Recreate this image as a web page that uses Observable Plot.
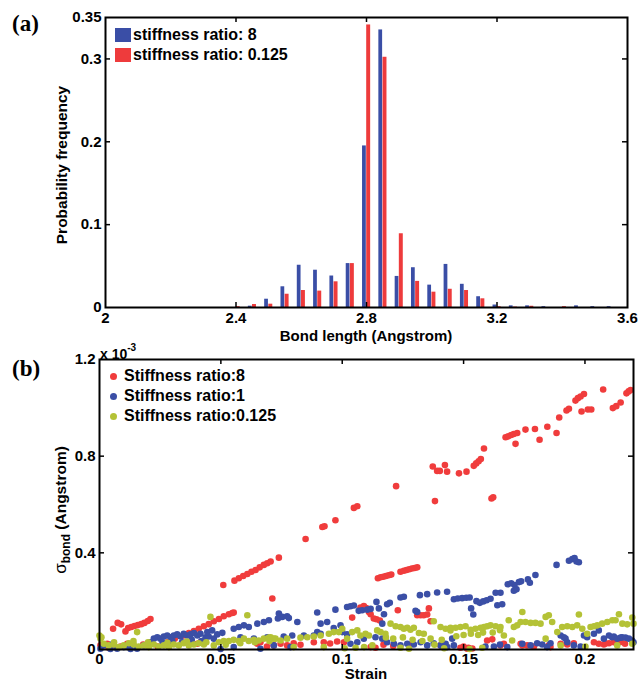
<!DOCTYPE html>
<html>
<head>
<meta charset="utf-8">
<script src="https://cdn.jsdelivr.net/npm/d3@7"></script>
<script src="https://cdn.jsdelivr.net/npm/@observablehq/plot@0.6"></script>
<style>
  html, body { margin: 0; padding: 0; background: #fff; }
  body { width: 640px; height: 680px; position: relative; overflow: hidden;
         font-family: "Liberation Sans", Arial, sans-serif; color: #000; }
  .chart { position: absolute; left: 0; }
  .txt { position: absolute; white-space: nowrap; font-weight: bold; line-height: 1; }
  .panel { font-family: "Liberation Serif", "Times New Roman", serif; font-size: 23px; }
  .rot { transform: translate(-50%, -50%) rotate(-90deg); }
  .ctr { transform: translate(-50%, -50%); }
  .sw { position: absolute; }
  .dotk { position: absolute; border-radius: 50%; }
</style>
</head>
<body>
<div id="a" class="chart" style="top:0"></div>
<div id="b" class="chart" style="top:340px"></div>
<div id="overlay"></div>
<script>
// ---------------- Panel (a): histogram data ----------------
const binCenters = [2.4, 2.45, 2.5, 2.55, 2.6, 2.65, 2.7, 2.75, 2.8, 2.85, 2.9, 2.95, 3.0,
  3.05, 3.1, 3.15, 3.2, 3.25, 3.3, 3.35, 3.4, 3.45, 3.5, 3.55];
const freqStiff8 = [0, 0.0016, 0.010, 0.025, 0.051, 0.045, 0.038, 0.053, 0.195, 0.335, 0.0375, 0.048, 0.027,
  0.052, 0.028, 0.013, 0.003, 0.002, 0.002, 0.001, 0, 0.002, 0.001, 0.001];
const freqStiff0125 = [0.001, 0.0036, 0.004, 0.016, 0.0205, 0.0198, 0.031, 0.053, 0.341, 0.302, 0.089, 0.0315, 0.0185,
  0.022, 0.0205, 0.0105, 0.001, 0.0005, 0.0015, 0, 0.001, 0, 0, 0];
const xTicksA = [2, 2.4, 2.8, 3.2, 3.6];
const yTicksA = [0, 0.1, 0.2, 0.3, 0.35];
const legendA = ["stiffness ratio: 8", "stiffness ratio: 0.125"];
const colorsA = ["#3a4ea6", "#ee3b3c"];

// ---------------- Panel (b): sigma_bond vs strain (values in 1e-3 Angstrom) ----------------
const ratio8 = [
  [0.0004,0.017],[0.0038,0.007],[0.0032,0.024],[0.0059,0.017],[0.0087,0.0125],[0.0114,0.024],
  [0.0056,0.086],[0.0075,0.110],[0.0089,0.104],[0.0107,0.075],
  [0.0118,0.089],[0.0131,0.093],[0.0144,0.097],[0.0158,0.101],[0.0172,0.105],[0.0185,0.110],[0.0199,0.118],[0.0210,0.126],
  [0.018,0.020],[0.024,0.012],[0.028,0.030],[0.031,0.045],
  [0.0347,0.058],[0.0368,0.068],[0.0389,0.076],[0.0409,0.086],[0.0430,0.096],[0.0450,0.105],[0.0471,0.117],
  [0.0492,0.126],[0.0512,0.1375],[0.0533,0.146],[0.0547,0.151],[0.0553,0.153],
  [0.0403,0.024],[0.0416,0.030],
  [0.0510,0.267],
  [0.0556,0.285],[0.0574,0.295],[0.0592,0.304],[0.0609,0.3125],[0.0626,0.322],[0.0643,0.329],[0.0660,0.340],
  [0.0677,0.350],[0.0691,0.357],[0.0705,0.364],
  [0.0712,0.211],[0.0739,0.380],[0.0849,0.457],
  [0.0918,0.507],[0.0927,0.510],[0.0972,0.535],[0.1048,0.586],[0.1062,0.593],[0.1222,0.676],
  [0.065,0.024],[0.0663,0.030],[0.069,0.0125],[0.0718,0.017],[0.0746,0.024],[0.0773,0.017],[0.080,0.026],
  [0.0828,0.0196],[0.0883,0.030],[0.0924,0.030],[0.095,0.025],[0.0979,0.033],[0.1007,0.030],
  [0.1041,0.132],[0.1075,0.174],[0.1089,0.180],[0.1099,0.172],[0.1110,0.155],[0.1117,0.146],[0.1130,0.128],
  [0.1141,0.125],[0.1155,0.120],[0.1229,0.1625],[0.1309,0.142],[0.1323,0.142],[0.1336,0.142],[0.1350,0.145],
  [0.1357,0.170],[0.1364,0.117],
  [0.1117,0.010],[0.1137,0.007],[0.117,0.020],[0.121,0.015],[0.128,0.020],[0.1405,0.017],[0.1487,0.007],
  [0.150,0.0125],[0.152,0.007],[0.1515,0.003],[0.1536,0.004],
  [0.1147,0.295],[0.1158,0.299],[0.1169,0.301],[0.1180,0.304],[0.1191,0.307],[0.1202,0.310],[0.1240,0.322],
  [0.1254,0.326],[0.1265,0.329],[0.1276,0.332],[0.1287,0.335],[0.1298,0.3375],[0.1309,0.340],
  [0.1373,0.757],[0.1382,0.614],[0.1391,0.739],[0.1402,0.739],[0.1423,0.763],[0.1432,0.736],[0.1481,0.729],
  [0.1512,0.736],[0.1542,0.760],[0.1552,0.770],[0.1562,0.779],[0.1571,0.788],[0.1584,0.832],[0.1615,0.625],
  [0.1622,0.630],[0.1673,0.878],[0.1684,0.882],[0.1696,0.8875],[0.1707,0.892],[0.1721,0.896],[0.1714,0.851],
  [0.1755,0.910],[0.1794,0.9125],[0.1813,0.868],[0.1845,0.922],[0.1883,0.896],[0.1894,0.960],[0.1924,0.989],
  [0.1934,0.996],[0.1961,1.030],[0.1971,1.040],[0.1982,1.047],[0.1996,1.057],[0.1986,0.985],[0.2012,0.993],
  [0.2026,0.993],[0.2075,1.076],[0.2115,0.999],[0.2129,1.007],[0.2147,1.022],[0.2171,1.060],[0.2180,1.068],
  [0.2188,1.074],
  [0.1597,0.0375],[0.1618,0.042],[0.1652,0.017],[0.1666,0.024],[0.1735,0.024],[0.1742,0.017],[0.1762,0.017],
  [0.179,0.0125],[0.1851,0.017],[0.1858,0.010],[0.19,0.024],[0.1927,0.021],[0.1954,0.026],[0.2037,0.030],
  [0.2057,0.024],[0.2078,0.021],[0.2085,0.025],[0.2099,0.026],[0.2119,0.030],[0.2128,0.030],[0.2148,0.031],
  [0.2165,0.024]
];
const ratio1 = [
  [0.0004,0.003],[0.0018,0.017],[0.0045,0.002],[0.0073,0.003],[0.010,0.010],[0.0128,0.002],[0.0155,0.003],
  [0.0183,0.017],[0.021,0.030],[0.0224,0.045],[0.0238,0.051],[0.0251,0.045],[0.0265,0.054],[0.0279,0.058],
  [0.0293,0.051],[0.0306,0.058],[0.032,0.0625],[0.0334,0.054],[0.0347,0.065],[0.0361,0.058],[0.0375,0.0625],
  [0.0389,0.068],[0.0403,0.058],[0.0416,0.065],[0.0437,0.051],[0.045,0.054],[0.0471,0.045],
  [0.026,0.030],[0.030,0.035],[0.034,0.030],[0.038,0.040],[0.042,0.035],[0.012,0.015],[0.005,0.020],
  [0.0444,0.072],[0.0464,0.079],[0.0485,0.0625],[0.0506,0.069],[0.0553,0.086],[0.0574,0.093],[0.0595,0.100],
  [0.0615,0.093],[0.065,0.107],[0.0677,0.114],[0.0698,0.121],[0.0739,0.149],[0.0753,0.135],[0.0773,0.1375],
  [0.0815,0.114],[0.0897,0.153],[0.0972,0.165],[0.1020,0.176],[0.1034,0.179],[0.1048,0.182],[0.0735,0.128],
  [0.078,0.130],
  [0.0499,0.002],[0.0553,0.010],[0.0581,0.050],[0.0636,0.045],[0.0691,0.051],[0.0759,0.054],[0.0794,0.058],
  [0.0842,0.058],[0.0911,0.065],[0.0663,0.003],[0.0718,0.017],[0.0787,0.010],[0.0883,0.058],[0.0897,0.072],
  [0.0911,0.107],[0.0938,0.114],[0.0965,0.089],[0.0993,0.100],[0.100,0.072],[0.102,0.0625],[0.1034,0.024],
  [0.1062,0.030],[0.1089,0.045],[0.1137,0.051],[0.1165,0.045],[0.1185,0.030],[0.1213,0.024],[0.124,0.017],
  [0.1268,0.024],[0.1295,0.021],[0.1323,0.030],[0.135,0.017],[0.1377,0.026],[0.1405,0.017],[0.1433,0.010],
  [0.146,0.017],
  [0.1068,0.160],[0.1082,0.1625],[0.1103,0.165],[0.1117,0.168],[0.1141,0.197],[0.1151,0.170],[0.1172,0.146],
  [0.1165,0.107],[0.1185,0.1875],[0.1196,0.193],[0.1240,0.215],[0.1254,0.218],[0.1302,0.160],[0.1309,0.155],
  [0.1320,0.225],[0.1350,0.229],[0.1391,0.236],[0.1432,0.239],
  [0.1460,0.208],[0.1476,0.211],[0.1494,0.2125],[0.1511,0.214],[0.1525,0.215],[0.1531,0.170],[0.1540,0.145],
  [0.1553,0.200],[0.1567,0.193],[0.1581,0.199],[0.1595,0.204],[0.1611,0.210],[0.1632,0.235],[0.1652,0.235],
  [0.1639,0.183],[0.1659,0.1875],[0.1682,0.270],[0.1696,0.274],[0.1710,0.267],[0.1728,0.279],[0.1737,0.282],
  [0.1707,0.243],[0.1718,0.249],[0.1765,0.290],[0.1773,0.276],[0.1796,0.308],[0.1883,0.350],[0.1934,0.367],
  [0.1948,0.374],[0.1957,0.378],[0.1965,0.364],[0.1975,0.361],
  [0.1453,0.045],[0.1426,0.024],[0.159,0.0125],[0.1625,0.0125],[0.165,0.020],[0.168,0.010],[0.1742,0.024],
  [0.1776,0.017],[0.1803,0.026],[0.1824,0.021],[0.1844,0.010],[0.1858,0.026],[0.19,0.058],[0.1913,0.051],
  [0.192,0.045],[0.1927,0.030],[0.1954,0.017],[0.1982,0.0125],[0.1996,0.058],[0.2009,0.051],[0.2037,0.065],
  [0.2057,0.079],[0.2078,0.045],[0.2099,0.058],[0.2112,0.051],[0.2119,0.054],[0.2133,0.045],[0.2147,0.049],
  [0.2153,0.051],[0.2167,0.049],[0.2181,0.045],[0.2194,0.0375],[0.2200,0.030]
];
const ratio0125 = [
  [0.0,0.058],[0.0004,0.045],[0.0008,0.051],[0.0018,0.024],[0.0038,0.017],[0.0059,0.021],[0.008,0.010],
  [0.010,0.017],[0.0121,0.026],[0.0141,0.021],[0.0155,0.072],[0.0162,0.0125],[0.0183,0.017],[0.0203,0.010],
  [0.0224,0.021],[0.0244,0.0125],[0.0265,0.017],[0.0286,0.010],[0.0306,0.021],[0.0327,0.017],[0.0347,0.026],
  [0.0368,0.017],[0.0389,0.021],[0.0409,0.026],[0.043,0.021],[0.0457,0.135],[0.0471,0.017],[0.0492,0.030],
  [0.0512,0.035],[0.0533,0.035],[0.0553,0.040],[0.0574,0.035],[0.0595,0.045],[0.0609,0.142],[0.0615,0.035],
  [0.0636,0.040],[0.0656,0.0375],[0.0677,0.045],[0.0698,0.049],[0.0718,0.045],
  [0.006,0.030],[0.014,0.035],[0.020,0.030],[0.028,0.028],[0.036,0.033],[0.044,0.030],[0.052,0.020],
  [0.058,0.026],[0.064,0.030],[0.070,0.035],
  [0.0705,0.051],[0.0725,0.045],[0.0746,0.0375],[0.0773,0.045],[0.080,0.010],[0.0828,0.049],[0.0856,0.051],
  [0.0883,0.054],[0.0911,0.058],[0.0924,0.010],[0.0945,0.065],[0.0965,0.072],[0.0986,0.072],[0.100,0.086],
  [0.102,0.045],[0.1041,0.072],[0.1055,0.007],[0.1062,0.079],[0.1075,0.058],[0.1096,0.065],[0.111,0.058],
  [0.1124,0.017],[0.1144,0.079],[0.1158,0.072],[0.1178,0.065],[0.1199,0.107],[0.122,0.096],[0.124,0.093],
  [0.1254,0.086],[0.1268,0.090],[0.1281,0.082],[0.1295,0.090],[0.1316,0.068],[0.1336,0.065],[0.1364,0.045],
  [0.1377,0.117],[0.1405,0.093],[0.1426,0.086],[0.1446,0.079],
  [0.118,0.050],[0.121,0.045],[0.125,0.050],[0.129,0.040],[0.133,0.035],[0.138,0.020],[0.141,0.040],
  [0.147,0.055],[0.150,0.060],[0.153,0.065],[0.156,0.060],[0.158,0.070],[0.162,0.070],[0.165,0.080],
  [0.101,0.005],[0.109,0.010],[0.124,0.007],[0.1275,0.003],[0.142,0.005],[0.1525,0.002],
  [0.1446,0.090],[0.1467,0.090],[0.1487,0.093],[0.1508,0.096],[0.1529,0.082],[0.1549,0.086],[0.157,0.090],
  [0.1584,0.093],[0.1597,0.096],[0.1611,0.100],[0.1632,0.096],[0.1652,0.093],[0.1666,0.058],[0.1686,0.121],
  [0.1707,0.093],[0.1721,0.100],[0.1735,0.114],[0.1742,0.155],[0.1755,0.114],[0.1776,0.110],[0.1796,0.110],
  [0.1817,0.107],[0.1838,0.135],[0.1851,0.142],[0.1865,0.114],[0.1886,0.072],[0.1906,0.093],[0.1927,0.096],
  [0.1948,0.093],[0.1968,0.100],[0.1975,0.145],[0.1989,0.086],[0.2009,0.065],[0.2023,0.093],[0.2037,0.096],
  [0.2051,0.100],[0.2071,0.107],[0.2092,0.114],[0.2113,0.121],[0.2126,0.121],[0.2140,0.146],[0.2154,0.107],
  [0.2174,0.104],[0.2195,0.132],[0.2200,0.107],
  [0.1577,0.007],[0.170,0.0375],[0.1838,0.045],[0.190,0.017],[0.2002,0.0125],[0.2133,0.017],[0.2195,0.024]
];
const xTicksB = [0, 0.05, 0.1, 0.15, 0.2];
const yTicksB = [0, 0.4, 0.8, 1.2];
const legendB = ["Stiffness ratio:8", "Stiffness ratio:1", "Stiffness ratio:0.125"];
const colorsB = ["#f03c3c", "#3b4fa6", "#b4c236"];

// ---------------- build panel (a) ----------------
const fontStyle = {background: "transparent", fontFamily: "'Liberation Sans', Arial, sans-serif",
  fontSize: "15px", fontWeight: "bold", color: "black", overflow: "visible"};

const histRows = binCenters.map((b, i) => ({bin: b, s8: freqStiff8[i], s0125: freqStiff0125[i]}));
const wA = 640, hA = 342, mlA = 105, mrA = 13, mtA = 17, mbA = 35;
const pwA = wA - mlA - mrA, phA = hA - mtA - mbA;
const half = 0.025;
const chartA = Plot.plot({
  width: wA, height: hA, marginLeft: mlA, marginRight: mrA, marginTop: mtA, marginBottom: mbA,
  style: fontStyle,
  x: {domain: [xTicksA[0], xTicksA[xTicksA.length - 1]]},
  y: {domain: [0, yTicksA[yTicksA.length - 1]]},
  marks: [
    Plot.rect(histRows, {x1: d => d.bin - half, x2: d => d.bin, y1: 0, y2: d => d.s8,
      fill: colorsA[0], insetLeft: 4.2, insetRight: 0.2}),
    Plot.rect(histRows, {x1: d => d.bin, x2: d => d.bin + half, y1: 0, y2: d => d.s0125,
      fill: colorsA[1], insetLeft: 0.2, insetRight: 4.0}),
    Plot.axisX({ticks: xTicksA, tickSize: 0, tickPadding: 5, tickFormat: d => String(d), label: null}),
    Plot.axisY({ticks: yTicksA, tickSize: 0, tickPadding: 4, tickFormat: d => String(d), label: null}),
    Plot.ruleX(xTicksA.slice(1, -1), {x: d => d, insetTop: phA - 5, stroke: "black", strokeWidth: 1.5}),
    Plot.ruleX(xTicksA.slice(1, -1), {x: d => d, insetBottom: phA - 5, stroke: "black", strokeWidth: 1.5}),
    Plot.ruleY(yTicksA.slice(1, -1), {y: d => d, insetRight: pwA - 5, stroke: "black", strokeWidth: 1.5}),
    Plot.ruleY(yTicksA.slice(1, -1), {y: d => d, insetLeft: pwA - 5, stroke: "black", strokeWidth: 1.5}),
    Plot.frame({stroke: "black", strokeWidth: 2})
  ]
});
document.getElementById("a").append(chartA);

// ---------------- build panel (b) ----------------
const wB = 640, hB = 340, mlB = 99, mrB = 7, mtB = 19, mbB = 31;
const pwB = wB - mlB - mrB, phB = hB - mtB - mbB;
const chartB = Plot.plot({
  width: wB, height: hB, marginLeft: mlB, marginRight: mrB, marginTop: mtB, marginBottom: mbB,
  style: fontStyle,
  x: {domain: [0, 0.22]},
  y: {domain: [0, yTicksB[yTicksB.length - 1]]},
  marks: [
    Plot.dot(ratio8, {x: d => d[0], y: d => d[1], r: 3.3, fill: colorsB[0], stroke: "none"}),
    Plot.dot(ratio1, {x: d => d[0], y: d => d[1], r: 3.3, fill: colorsB[1], stroke: "none"}),
    Plot.dot(ratio0125, {x: d => d[0], y: d => d[1], r: 3.3, fill: colorsB[2], stroke: "none"}),
    Plot.axisX({ticks: xTicksB, tickSize: 0, tickPadding: 4, tickFormat: d => String(d), label: null}),
    Plot.axisY({ticks: yTicksB, tickSize: 0, tickPadding: 4, tickFormat: d => String(d), label: null}),
    Plot.ruleX(xTicksB.slice(1), {x: d => d, insetTop: phB - 5, stroke: "black", strokeWidth: 1.5}),
    Plot.ruleX(xTicksB.slice(1), {x: d => d, insetBottom: phB - 5, stroke: "black", strokeWidth: 1.5}),
    Plot.ruleY(yTicksB.slice(1, -1), {y: d => d, insetRight: pwB - 5, stroke: "black", strokeWidth: 1.5}),
    Plot.ruleY(yTicksB.slice(1, -1), {y: d => d, insetLeft: pwB - 5, stroke: "black", strokeWidth: 1.5}),
    Plot.frame({stroke: "black", strokeWidth: 2})
  ]
});
document.getElementById("b").append(chartB);

// ---------------- text overlays (titles, labels, legends) ----------------
const ov = document.getElementById("overlay");
function addText(html, cls, css) {
  const el = document.createElement("div");
  el.className = "txt " + cls;
  el.innerHTML = html;
  Object.assign(el.style, css);
  ov.append(el);
  return el;
}
addText("(a)", "panel", {left: "12px", top: "12px"});
addText("(b)", "panel", {left: "12px", top: "357px"});
addText("Probability frequency", "rot", {left: "62px", top: "165px", fontSize: "15.5px"});
addText("Bond length (Angstrom)", "ctr", {left: "366px", top: "335px", fontSize: "15px"});
addText("Strain", "ctr", {left: "366px", top: "673px", fontSize: "15px"});
addText("<span style='font-weight:normal;font-size:17px'>&sigma;</span><sub style='font-size:12px'>bond</sub> (Angstrom)",
  "rot", {left: "62px", top: "510px", fontSize: "15.5px"});
addText("x 10<sup style='font-size:10px;position:relative;top:-2px'>-3</sup>", "", {left: "100px", top: "345px", fontSize: "14px"});

// legend (a)
legendA.forEach((t, i) => {
  const sw = document.createElement("div");
  sw.className = "sw";
  Object.assign(sw.style, {left: "115px", top: (28 + 20 * i) + "px", width: "16px", height: "14px", background: colorsA[i]});
  ov.append(sw);
  addText(t, "", {left: "133px", top: (27 + 20 * i) + "px", fontSize: "16px"});
});
// legend (b)
legendB.forEach((t, i) => {
  const dt = document.createElement("div");
  dt.className = "dotk";
  Object.assign(dt.style, {left: "110px", top: (373 + 20 * i) + "px", width: "7px", height: "7px", background: colorsB[i]});
  ov.append(dt);
  addText(t, "", {left: "124px", top: (368 + 20 * i) + "px", fontSize: "16px"});
});
</script>
</body>
</html>
